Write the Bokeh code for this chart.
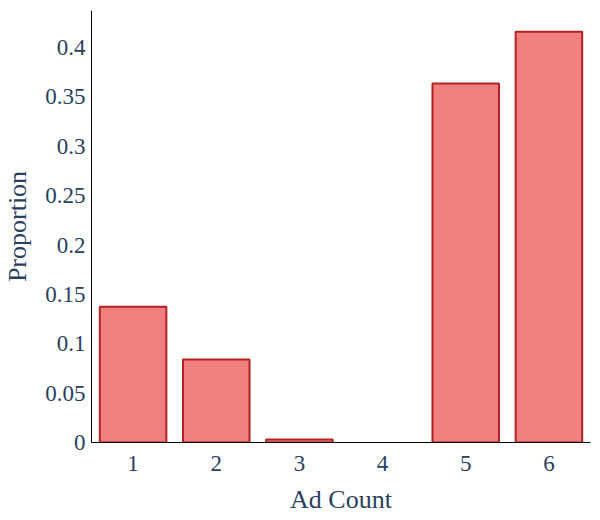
from bokeh.plotting import figure
from bokeh.models import FixedTicker, Range1d, ColumnDataSource
from bokeh.embed import file_html
from bokeh.resources import INLINE

ad_counts = [1, 2, 3, 4, 5, 6]
proportions = [0.1375, 0.084, 0.003, 0.0, 0.3635, 0.416]
y_ticks = [0, 0.05, 0.1, 0.15, 0.2, 0.25, 0.3, 0.35, 0.4]
y_tick_labels = ["0", "0.05", "0.1", "0.15", "0.2", "0.25", "0.3", "0.35", "0.4"]

FONT = "Liberation Serif"
TXT = "#2a3f5f"

# zero-height bars are not drawn (no visible outline in the reference)
xs = [c for c, v in zip(ad_counts, proportions) if v > 0]
tops = [v for v in proportions if v > 0]
src = ColumnDataSource(dict(x=xs, top=tops))

p = figure(width=600, height=520, output_backend="svg", toolbar_location=None,
           x_range=Range1d(0.5, 6.5), y_range=Range1d(0, 0.4375),
           min_border_left=90, min_border_right=10, min_border_top=10, min_border_bottom=78)

p.vbar(x="x", top="top", width=0.8, source=src, fill_color="#F08080",
       line_color="#B22222", line_width=2)

p.xgrid.visible = False
p.ygrid.visible = False
p.outline_line_color = None

p.xaxis.ticker = FixedTicker(ticks=ad_counts)
p.yaxis.ticker = FixedTicker(ticks=y_ticks)
p.yaxis.major_label_overrides = {t: l for t, l in zip(y_ticks, y_tick_labels)}

for ax in (p.xaxis[0], p.yaxis[0]):
    ax.axis_line_color = "black"
    ax.axis_line_width = 1
    ax.major_tick_line_color = None
    ax.minor_tick_line_color = None
    ax.major_tick_out = 0
    ax.major_tick_in = 0
    ax.major_label_text_font = FONT
    ax.major_label_text_font_size = "23px"
    ax.major_label_text_color = TXT
    ax.axis_label_text_font = FONT
    ax.axis_label_text_font_size = "26px"
    ax.axis_label_text_color = TXT
    ax.axis_label_text_font_style = "normal"

p.xaxis.major_label_standoff = 13
p.yaxis.major_label_standoff = 6
p.xaxis.axis_label = "Ad Count"
p.yaxis.axis_label = "Proportion"
p.xaxis.axis_label_standoff = 11
p.yaxis.axis_label_standoff = 10

open("out.html", "w").write(file_html(p, INLINE))
